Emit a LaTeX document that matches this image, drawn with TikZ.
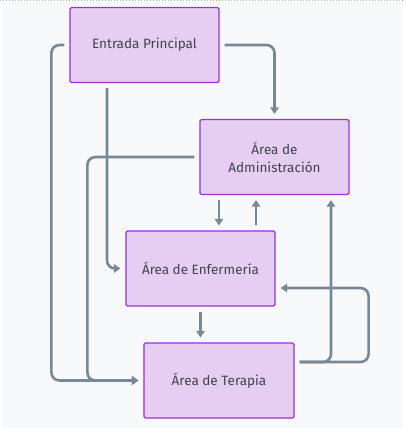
\documentclass[tikz,border=0pt]{standalone}
\usepackage{fontspec}
\setmainfont{Fira Sans}
\usetikzlibrary{arrows.meta,calc}
\definecolor{bgc}{HTML}{F8F9FA}
\definecolor{boxfill}{HTML}{E5CEF2}
\definecolor{boxline}{HTML}{9A32D6}
\definecolor{linec}{HTML}{7A8896}
\definecolor{txtc}{HTML}{42424F}
\tikzset{
  area/.style={draw=boxline, fill=boxfill, line width=1.2pt, rounded corners=1.5pt,
    minimum width=149pt, minimum height=75pt, inner sep=0pt, align=center,
    font=\fontsize{13.5}{18}\selectfont, text=txtc},
  conn/.style={draw=linec, line width=2.6pt, rounded corners=8pt,
    shorten <=5pt, shorten >=5pt, -{Triangle[width=8.5pt,length=6.5pt]}},
}
\begin{document}
\begin{tikzpicture}[x=1pt,y=-1pt]
\useasboundingbox (0,0) rectangle (405,430);
\fill[bgc] (2,3) rectangle (403,428);
\draw[gray!60, dotted, line width=1pt] (0,1) -- (405,1);

\node[area] (ent) at (144.5,45) {Entrada Principal};
\node[area] (adm) at (274.5,157) {Área de\\Administración};
\node[area] (enf) at (200.5,268.5) {Área de Enfermería};
\node[area, minimum width=150pt] (ter) at (219,380.5) {Área de Terapia};

% Entrada -> Administracion
\draw[conn] (ent.east) -| (adm.north);
% Entrada -> Terapia
\draw[conn] (ent.west) -- ++(-18,0) |- (ter.west);
% Entrada -> Enfermeria
\draw[conn] ([xshift=-37.5pt]ent.south) |- (enf.west);
% Administracion -> Terapia
\draw[conn] (adm.west) -- ++(-112,0) |- (ter.west);
% Administracion -> Enfermeria
\draw[conn] ([xshift=-55.5pt]adm.south) -- ([xshift=-55.5pt]adm.south |- enf.north);
% Enfermeria -> Administracion
\draw[conn] ([xshift=55.5pt]enf.north) -- ([xshift=55.5pt]enf.north |- adm.south);
% Terapia -> Administracion
\draw[conn] ([yshift=18.5pt]ter.east) -| ([xshift=56.5pt]adm.south);
% Terapia -> Enfermeria
\draw[conn] ([yshift=18.5pt]ter.east) -- ++(74,0) |- ([yshift=-19.5pt]enf.east);
% Enfermeria -> Terapia
\draw[conn] (enf.south) -- (enf.south |- ter.north);
\end{tikzpicture}
\end{document}
